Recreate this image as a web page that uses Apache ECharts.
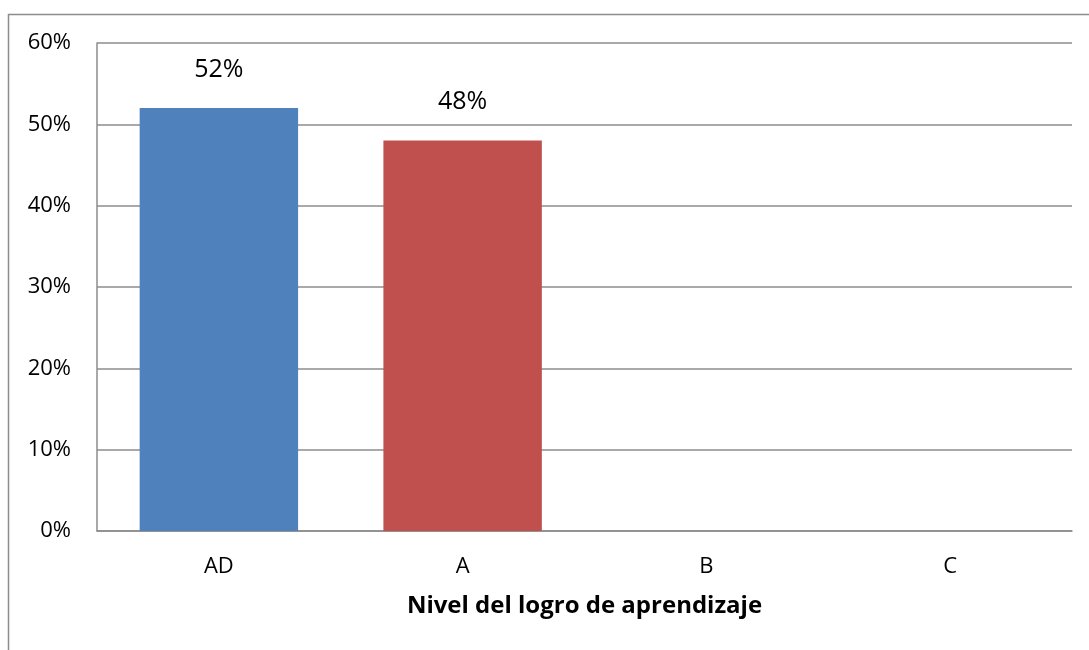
<!DOCTYPE html>
<html>
<head>
<meta charset="utf-8">
<script src="https://cdn.jsdelivr.net/npm/echarts@6/dist/echarts.min.js"></script>
<style>
  html, body { margin: 0; padding: 0; background: #ffffff; }
  #chart { width: 1089px; height: 650px; }
</style>
</head>
<body>
<div id="chart"></div>
<script>
// Nivel del logro de aprendizaje: share of students per level
const categories = ['AD', 'A', 'B', 'C'];
const values = [0.52, 0.48, 0, 0];
const barColors = ['#4F81BD', '#C0504D', '#9BBB59', '#8064A2'];
const yTicks = [0, 0.1, 0.2, 0.3, 0.4, 0.5, 0.6];

const font = '"Open Sans", "Noto Sans", "Liberation Sans", sans-serif';
const pct = v => Math.round(v * 100) + '%';

const chart = echarts.init(document.getElementById('chart'), null, { renderer: 'canvas' });

chart.setOption({
  animation: false,
  backgroundColor: '#ffffff',
  graphic: [{
    type: 'rect',
    shape: { x: 8.5, y: 14.5, width: 1200, height: 800 },
    style: { fill: 'none', stroke: '#8c8c8c', lineWidth: 1.5 },
    silent: true
  }],
  grid: { left: 97, right: 17, top: 43, bottom: 119, containLabel: false },
  xAxis: {
    type: 'category',
    data: categories,
    name: 'Nivel del logro de aprendizaje',
    nameLocation: 'middle',
    nameGap: 63,
    nameTextStyle: { fontFamily: font, fontSize: 24, fontWeight: 'bold', color: '#000' },
    axisLine: { show: true, lineStyle: { color: '#8c8c8c', width: 1.5 } },
    axisTick: { show: false },
    axisLabel: { fontFamily: font, fontSize: 22, color: '#000', margin: 25 }
  },
  yAxis: {
    type: 'value',
    min: yTicks[0],
    max: yTicks[yTicks.length - 1],
    interval: yTicks[1] - yTicks[0],
    axisLine: { show: true, lineStyle: { color: '#8c8c8c', width: 1.5 } },
    axisTick: { show: false },
    splitLine: { show: true, lineStyle: { color: '#8c8c8c', width: 1.5 } },
    axisLabel: { fontFamily: font, fontSize: 22, color: '#000', margin: 26, formatter: pct }
  },
  series: [{
    type: 'bar',
    barWidth: '65%',
    data: values.map((v, i) => ({
      value: v,
      itemStyle: { color: barColors[i] },
      label: { show: v > 0 }
    })),
    label: {
      position: 'top',
      distance: 26,
      fontFamily: font,
      fontSize: 25,
      color: '#000',
      formatter: p => pct(p.value)
    }
  }]
});
</script>
</body>
</html>
